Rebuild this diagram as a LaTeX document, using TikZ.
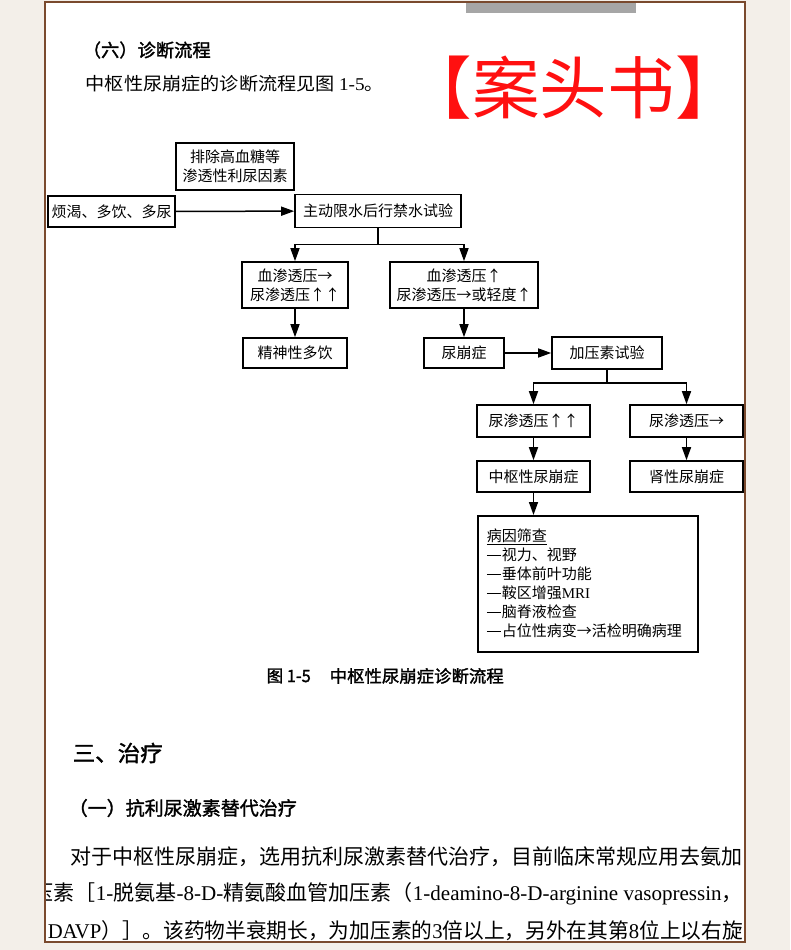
\documentclass[tikz,border=0pt]{standalone}
\usepackage{xcolor}
\usepackage{graphicx}
\usepackage{fontspec}
\setmainfont{Noto Sans CJK SC}
\newfontfamily\heiti[FakeBold=1.6]{Noto Sans CJK SC}
\newfontfamily\romn{Liberation Serif}
\usepackage{tikz}
\usetikzlibrary{arrows.meta, positioning}

\definecolor{paper}{HTML}{F3EFE9}
\definecolor{rim}{HTML}{7A4A2E}
\definecolor{stamp}{HTML}{FF1010}

\newcommand{\fitto}[2]{\resizebox{#1}{\height}{#2}}
\newcommand{\lead}{\rule[5pt]{14pt}{0.9pt}\hspace{1pt}}

\begin{document}
\begin{tikzpicture}[x=1pt, y=-1pt, node distance=68pt, on grid,
    box/.style={draw, line width=1.6pt, inner sep=0pt, align=center, font=\fontsize{15}{19}\selectfont},
    txt/.style={anchor=west, inner sep=0pt},
    >={Triangle[length=13pt, width=9pt]}, line width=1.5pt]

    \useasboundingbox (0,0) rectangle (790,950);
    \fill[paper] (0,0) rectangle (790,950);
    \fill[white] (45,2) rectangle (745,942);
    \fill[black!35] (466,2) rectangle (636,13);

    \begin{scope}
        \clip (46,3) rectangle (744,941);
        \node[txt] (h6) at (82,50) {\fitto{128pt}{\heiti\fontsize{18}{18}\selectfont （六）诊断流程}};
        \node[txt] (intro) at (85,84) {\fitto{298pt}{\fontsize{18}{18}\selectfont 中枢性尿崩症的诊断流程见图 {\romn 1-5}。}};
        \node[txt, text=stamp] (mark) at (404,88) {\fitto{338pt}{\fontsize{68}{68}\selectfont 【案头书】}};

        \node[txt] (fig) at (266,676) {\fitto{44pt}{\heiti\fontsize{17}{17}\selectfont 图 1-5}};
        \node[txt] (figt) at (329,676) {\fitto{174pt}{\heiti\fontsize{17}{17}\selectfont 中枢性尿崩症诊断流程}};
        \node[txt] (sec3) at (72,753) {\fitto{90pt}{\heiti\fontsize{22}{22}\selectfont 三、治疗}};
        \node[txt] (sec31) at (68,808) {\fitto{228pt}{\heiti\fontsize{19}{19}\selectfont （一）抗利尿激素替代治疗}};
        \node[txt] (par1) at (70,857) {\fitto{672pt}{\fontsize{21}{21}\selectfont 对于中枢性尿崩症，选用抗利尿激素替代治疗，目前临床常规应用去氨加}};
        \node[txt] (par2) at (32,894) {\fitto{710pt}{\fontsize{21}{21}\selectfont 压素［{\romn 1-}脱氨基{\romn -8-D-}精氨酸血管加压素（{\romn 1-deamino-8-D-arginine vasopressin}，}};
        \node[txt] (par3) at (47,931) {\fitto{695pt}{\fontsize{21}{21}\selectfont {\romn DAVP}）］。该药物半衰期长，为加压素的{\romn 3}倍以上，另外在其第{\romn 8}位上以右旋}};
    \end{scope}

    \node[box, minimum width=118pt, minimum height=47pt] (excl) at (235,166.5) {排除高血糖等\\渗透性利尿因素};
    \node[box, minimum width=127pt, minimum height=31pt] (sympt) at (111.5,211.5) {烦渴、多饮、多尿};
    \node[box, minimum width=166pt, minimum height=33pt] (wdt) at (378,211) {主动限水后行禁水试验};
    \node[box, minimum width=106pt, minimum height=46pt] (psy1) at (295,285) {血渗透压→\\尿渗透压↑↑};
    \node[box, minimum width=148pt, minimum height=46pt] (di1) at (464,285) {血渗透压↑\\尿渗透压→或轻度↑};
    \node[box, minimum width=104pt, minimum height=30pt] (poly) [below=of psy1] {精神性多饮};
    \node[box, minimum width=80pt, minimum height=30pt] (di) [below=of di1] {尿崩症};
    \node[box, minimum width=110pt, minimum height=32pt] (vp) [right=143pt of di] {加压素试验};
    \node[box, minimum width=113pt, minimum height=32pt] (uhigh) at (533.5,421) {尿渗透压↑↑};
    \node[box, minimum width=113pt, minimum height=32pt] (uflat) [right=153pt of uhigh] {尿渗透压→};
    \node[box, minimum width=113pt, minimum height=31pt] (cdi) [below=55.5pt of uhigh] {中枢性尿崩症};
    \node[box, minimum width=113pt, minimum height=31pt] (ndi) [below=55.5pt of uflat] {肾性尿崩症};
    \node[box, anchor=north west, align=left, text width=202pt, inner xsep=9pt, inner ysep=8pt,
        minimum height=136pt] (cause) at (477,515)
        {\underline{病因筛查}\\\lead 视力、视野\\\lead 垂体前叶功能\\\lead 鞍区增强{\romn MRI}\\\lead 脑脊液检查\\\lead 占位性病变→活检明确病理};

    \path[->]
    (sympt) edge (wdt)
    (psy1) edge (poly)
    (di1) edge (di)
    (di) edge (vp)
    (uhigh) edge (cdi)
    (uflat) edge (ndi)
    (cdi) edge (cdi.south |- cause.north);
    \draw[->] (wdt.south) -- ++(0,16) -| (psy1);
    \draw[->] (wdt.south) -- ++(0,16) -| (di1);
    \draw[->] (vp.south) -- ++(0,13) -| (uhigh);
    \draw[->] (vp.south) -- ++(0,13) -| (uflat);

    \draw[rim, line width=2pt] (45,2) rectangle (745,942);
\end{tikzpicture}
\end{document}
